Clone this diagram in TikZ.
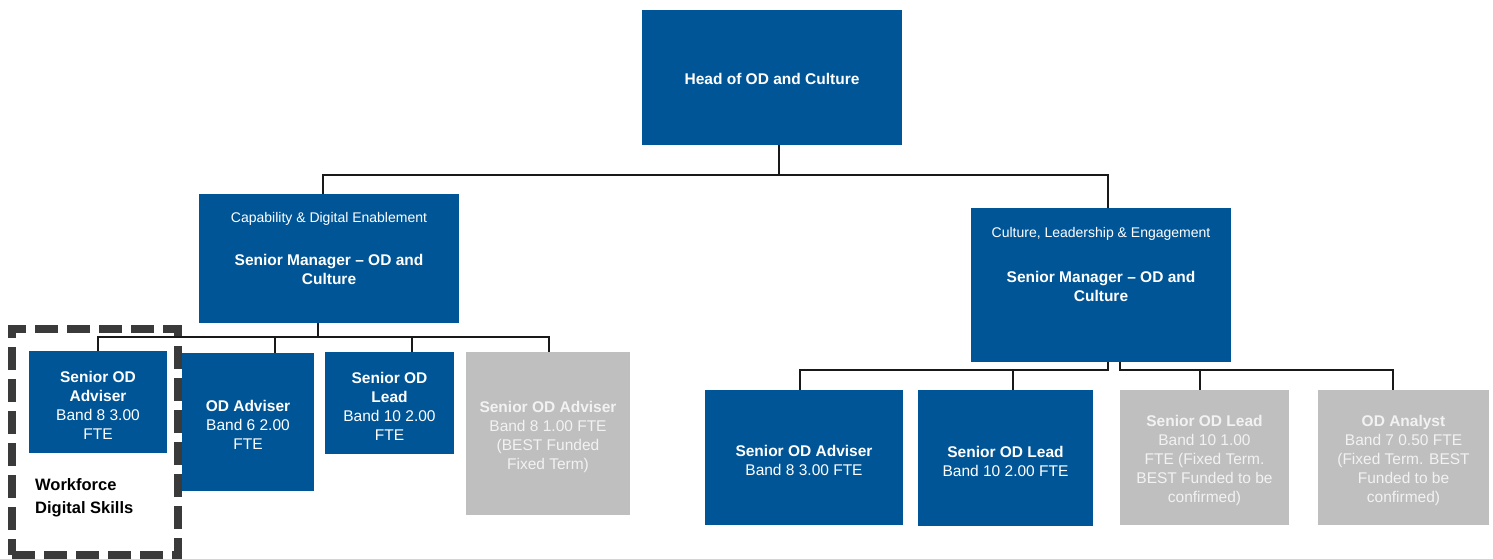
\documentclass[tikz,border=0pt]{standalone}
\usepackage{fontspec}
\setmainfont{Liberation Sans}
\definecolor{odblue}{RGB}{0,85,150}
\definecolor{odgray}{RGB}{191,191,191}
\definecolor{odgtext}{RGB}{242,242,242}
\definecolor{dashc}{RGB}{58,58,58}
\newcommand\mainfs{\fontsize{15.5}{19}\selectfont}
\newcommand\subfs{\fontsize{14}{19}\selectfont}
\newcommand\dn{\rule{0pt}{17.5pt}}
\begin{document}
\begin{tikzpicture}[x=1pt,y=-1pt,
  bluebox/.style={fill=odblue, text=white, align=center, font=\mainfs, inner sep=0pt},
  graybox/.style={fill=odgray, text=odgtext, align=center, font=\mainfs, inner sep=0pt},
  lbl/.style={align=center, text=white, font=\mainfs, inner sep=0pt},
  conn/.style={line width=2pt, black!90},
  dashbox/.style={draw=dashc, line width=8pt, dash pattern=on 23pt off 9pt, inner sep=0pt},
]
\useasboundingbox (0,0) rectangle (1493,559);
% dashed group
\node[dashbox, minimum width=166pt, minimum height=226pt] (wds) at (95,442) {};
\node[anchor=west, align=left, font=\bfseries\fontsize{16.5}{23}\selectfont, inner sep=0pt] (wdst) at (35,498) {Workforce\\Digital Skills};
% top
\node[bluebox, minimum width=260pt, minimum height=135pt] (head) at (772,77.5) {\rule{0pt}{14pt}\textbf{Head of OD and Culture}};
% managers
\node[bluebox, minimum width=260pt, minimum height=129pt] (lm) at (329,258.5) {};
\node[lbl] (lmt) at (329,248.5) {{\subfs Capability \& Digital Enablement}\\[24pt]\textbf{Senior Manager -- OD and}\\\textbf{Culture}};
\node[bluebox, minimum width=260pt, minimum height=154pt] (rm) at (1101,285) {};
\node[lbl] (rmt) at (1101,264.5) {{\subfs Culture, Leadership \& Engagement}\\[26pt]\textbf{Senior Manager -- OD and}\\\textbf{Culture}};
% left team
\node[bluebox, minimum width=138pt, minimum height=102pt] (b1) at (98,402) {\dn\textbf{Senior OD}\\\textbf{Adviser}\\Band 8 3.00\\FTE};
\node[bluebox, minimum width=132pt, minimum height=138pt] (b2) at (248,422) {\dn\textbf{OD Adviser}\\Band 6 2.00\\FTE};
\node[bluebox, minimum width=129pt, minimum height=102pt] (b3) at (389.5,403) {\dn\textbf{Senior OD}\\\textbf{Lead}\\Band 10 2.00\\FTE};
\node[graybox, minimum width=164pt, minimum height=163pt] (b4) at (548,433.5) {\dn\textbf{Senior OD Adviser}\\Band 8 1.00 FTE\\(BEST Funded\\Fixed Term)};
% right team
\node[bluebox, minimum width=198pt, minimum height=135pt] (bA) at (804,457.5) {\dn\textbf{Senior OD Adviser}\\Band 8 3.00 FTE};
\node[bluebox, minimum width=175pt, minimum height=136pt] (bB) at (1005.5,458) {\dn\textbf{Senior OD Lead}\\Band 10 2.00 FTE};
\node[graybox, minimum width=169pt, minimum height=135pt] (bC) at (1204.5,457.5) {\dn\textbf{Senior OD Lead}\\Band 10 1.00\\FTE (Fixed Term.\\BEST Funded to be\\confirmed)};
\node[graybox, minimum width=171pt, minimum height=135pt] (bD) at (1403.5,457.5) {\dn\textbf{OD Analyst}\\Band 7 0.50 FTE\\(Fixed Term. BEST\\Funded to be\\confirmed)};
% connectors top
\coordinate (tbus) at (779,175);
\draw[conn] ([xshift=7pt]head.south) -- (tbus);
\draw[conn] ([xshift=-6pt]lm.north) |- (tbus) -| ([xshift=7pt]rm.north);
% left bus
\coordinate (lbus) at (318,337);
\draw[conn] ([xshift=-11pt]lm.south) -- (lbus);
\draw[conn] (b1.north) |- (lbus) -| ([xshift=1pt]b4.north);
\draw[conn] ([xshift=27pt]b2.north) -- ([xshift=27pt]b2.north |- lbus);
\draw[conn] ([xshift=22.5pt]b3.north) -- ([xshift=22.5pt]b3.north |- lbus);
% right buses
\coordinate (rbusL) at (800,370);
\coordinate (rbusR) at (1393,370);
\draw[conn] ([xshift=7pt]rm.south) |- (rbusL) -- ([xshift=-4pt]bA.north);
\draw[conn] ([xshift=7.5pt]bB.north) -- ([xshift=7.5pt]bB.north |- rbusL);
\draw[conn] ([xshift=19pt]rm.south) |- (rbusR) -- ([xshift=-10.5pt]bD.north);
\draw[conn] ([xshift=-4.5pt]bC.north) -- ([xshift=-4.5pt]bC.north |- rbusR);
\end{tikzpicture}
\end{document}
